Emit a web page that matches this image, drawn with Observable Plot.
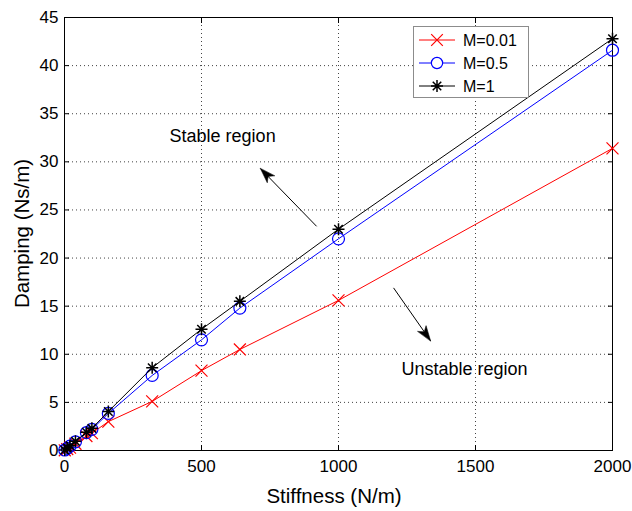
<!DOCTYPE html>
<html><head><meta charset="utf-8">
<script src="https://cdn.jsdelivr.net/npm/d3@7"></script>
<script src="https://cdn.jsdelivr.net/npm/@observablehq/plot@0.6"></script>
<style>
body{margin:0;background:#fff;font-family:"Liberation Sans",Arial,sans-serif;}
#wrap{position:relative;width:632px;height:511px;}
#legend{position:absolute;left:413px;top:26px;width:116px;height:72px;border:1px solid #8c8c8c;background:#fff;box-sizing:border-box;}
</style></head><body>
<div id="wrap"><div id="legend"></div></div>
<script>
const stiffness = [1, 10, 20, 40, 80, 100, 160, 320, 500, 640, 1000, 2000];
const dampM001 = [0.02, 0.15, 0.3, 0.7, 1.5, 1.8, 3.0, 5.1, 8.3, 10.5, 15.6, 31.4];
const dampM05 = [0.05, 0.22, 0.45, 0.9, 1.85, 2.2, 3.85, 7.8, 11.5, 14.8, 22.0, 41.6];
const dampM1 = [0.06, 0.25, 0.5, 0.95, 1.9, 2.3, 4.05, 8.6, 12.6, 15.5, 23.0, 42.8];
const seriesNames = ["M=0.01", "M=0.5", "M=1"];
const seriesColors = ["#ff0000", "#0000ff", "#000000"];
const xTicks = [0, 500, 1000, 1500, 2000];
const yTicks = [0, 5, 10, 15, 20, 25, 30, 35, 40, 45];
const annotations = [
  {text: "Stable region", x: 577, y: 32.7},
  {text: "Unstable region", x: 1460, y: 8.4}
];
const arrows = [
  {x1: 920, y1: 23.3, x2: 715, y2: 29.3},
  {x1: 1201, y1: 16.9, x2: 1336, y2: 11.4}
];

// MATLAB-style 8-spoke asterisk
const star8 = {draw(ctx, size) {
  const r = Math.sqrt(size / Math.PI);
  for (let k = 0; k < 4; k++) {
    const a = k * Math.PI / 4, c = Math.cos(a) * r, s = Math.sin(a) * r;
    ctx.moveTo(-c, -s); ctx.lineTo(c, s);
  }
}};
const seriesSymbols = ["times", "circle", star8];

const W = 632, H = 511, ML = 64, MR = 20, MT = 17, MB = 61;
const xDom = [0, 2000], yDom = [0, 45];
const sx = (W - ML - MR) / (xDom[1] - xDom[0]);
const sy = (H - MT - MB) / (yDom[1] - yDom[0]);
arrows.forEach(a => {
  const dx = (a.x2 - a.x1) * sx, dy = -(a.y2 - a.y1) * sy;
  a.angle = Math.atan2(dx, -dy) * 180 / Math.PI;
});

const series = [dampM001, dampM05, dampM1];
const rows = [];
series.forEach((vals, i) => vals.forEach((v, j) => rows.push({k: stiffness[j], d: v, s: seriesNames[i]})));

const head = {draw(ctx) { ctx.moveTo(0, 0); ctx.lineTo(-5, 15); ctx.lineTo(0, 11); ctx.lineTo(5, 15); ctx.closePath(); }};
const fmt = d3.format("d");

const marks = [
  Plot.gridX(xTicks, {stroke: "#222", strokeOpacity: 0.85, strokeDasharray: "1,3"}),
  Plot.gridY(yTicks, {stroke: "#222", strokeOpacity: 0.85, strokeDasharray: "1,3"}),
  Plot.frame({stroke: "#000"}),
  Plot.axisX(xTicks, {tickSize: -5, tickPadding: 14, fontSize: 17, tickFormat: fmt, label: null}),
  Plot.axisX(xTicks, {anchor: "top", tickSize: -5, tickFormat: () => "", label: null}),
  Plot.axisY(yTicks, {tickSize: -5, tickPadding: 11, fontSize: 17, tickFormat: fmt, label: null}),
  Plot.axisY(yTicks, {anchor: "right", tickSize: -5, tickFormat: () => "", label: null}),
];
seriesNames.forEach((name, i) => {
  const d = rows.filter(r => r.s === name);
  marks.push(Plot.line(d, {x: "k", y: "d", stroke: seriesColors[i], strokeWidth: 1}));
  marks.push(Plot.dot(d, {x: "k", y: "d", stroke: seriesColors[i], symbol: seriesSymbols[i], r: i === 0 ? 5.5 : 6, strokeWidth: i === 2 ? 1.5 : 1.2}));
});
marks.push(Plot.link(arrows, {x1: "x1", y1: "y1", x2: "x2", y2: "y2", stroke: "#000", strokeWidth: 1}));
marks.push(Plot.vector(arrows, {x: "x2", y: "y2", rotate: "angle", length: 0, shape: head, fill: "#000", stroke: "#000", strokeWidth: 0.5}));
marks.push(Plot.text(annotations, {x: "x", y: "y", text: "text", fontSize: 18, fill: "#000"}));

const chart = Plot.plot({
  width: W, height: H,
  marginLeft: ML, marginRight: MR, marginTop: MT, marginBottom: MB,
  style: {fontFamily: "'Liberation Sans', Arial, sans-serif", color: "#000", background: "#fff"},
  x: {domain: xDom},
  y: {domain: yDom},
  marks
});
const wrap = document.getElementById("wrap");
wrap.insertBefore(chart, wrap.firstChild);

// axis titles
const svg = d3.select(chart);
svg.append("text").attr("x", ML + (W - ML - MR) / 2 - 4).attr("y", 503)
  .attr("text-anchor", "middle").attr("font-size", 20.5).attr("fill", "#000").text("Stiffness (N/m)");
svg.append("text").attr("transform", `translate(29,${MT + (H - MT - MB) / 2}) rotate(-90)`)
  .attr("text-anchor", "middle").attr("font-size", 20.5).attr("fill", "#000").text("Damping (Ns/m)");

// legend
const lg = d3.select("#legend").append("svg").attr("width", 114).attr("height", 70);
seriesNames.forEach((name, i) => {
  const y = 13 + i * 23;
  lg.append("line").attr("x1", 5).attr("x2", 41).attr("y1", y).attr("y2", y).attr("stroke", seriesColors[i]);
  const sym = i === 2 ? d3.symbol(star8, 113) : d3.symbol(i === 0 ? d3.symbolTimes : d3.symbolCircle, i === 0 ? 90 : 100);
  lg.append("path").attr("d", sym()).attr("transform", `translate(23,${y})`)
    .attr("fill", i === 1 ? "#fff" : "none").attr("stroke", seriesColors[i]).attr("stroke-width", i === 2 ? 1.5 : 1.2);
  lg.append("text").attr("x", 49).attr("y", y + 6).attr("font-size", 16).attr("fill", "#000").text(name);
});
</script>
</body></html>
